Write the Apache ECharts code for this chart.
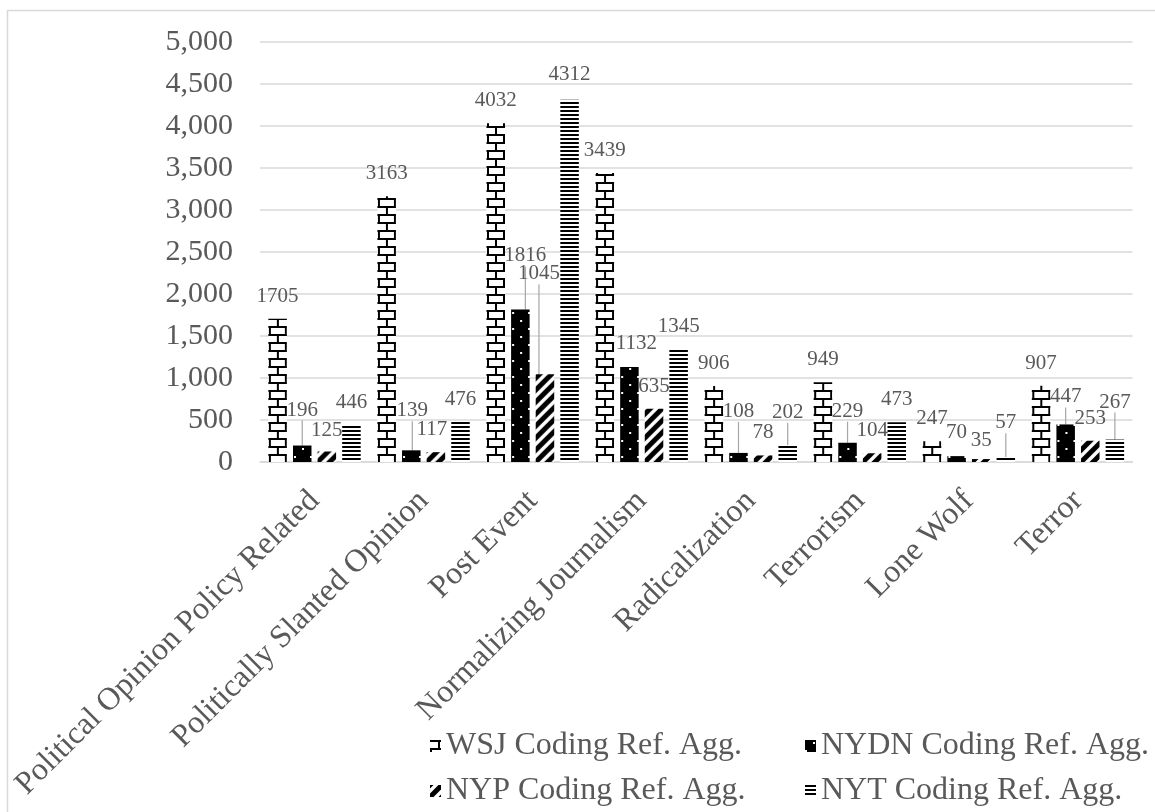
<!DOCTYPE html>
<html><head><meta charset="utf-8">
<script src="https://cdn.jsdelivr.net/npm/echarts@6/dist/echarts.min.js"></script>
<style>html,body{margin:0;padding:0;background:#fff}#c{width:1155px;height:812px}</style>
</head><body><div id="c"></div>
<script>
// ---------- data ----------
const categories = ['Political Opinion Policy Related','Politically Slanted Opinion','Post Event','Normalizing Journalism','Radicalization','Terrorism','Lone Wolf','Terror'];
const seriesNames = ['WSJ Coding Ref. Agg.','NYDN Coding Ref. Agg.','NYP Coding Ref. Agg.','NYT Coding Ref. Agg.'];
const wsj  = [1705, 3163, 4032, 3439, 906, 949, 247, 907];
const nydn = [196, 139, 1816, 1132, 108, 229, 70, 447];
const nyp  = [125, 117, 1045, 635, 78, 104, 35, 253];
const nyt  = [446, 476, 4312, 1345, 202, 473, 57, 267];
const yMin = 0, yMax = 5000, yInterval = 500;

// ---------- label placement (moved labels, pixel shifts) ----------
const labelShift = [
  [null,null,null,null,null,null,null,null],
  [[0,-13],[1,-17],[5,-31],[7,-1],[0,-19],[0,-9],[0,-1],[0,-5]],
  [[0,1],[-4,0],[-6,-78],null,null,null,[0,4],null],
  [null,null,[0,-3],null,[0,-10],null,[0,-12],[0,-15]]
];
const leader = [
  [],
  [0,1,2,4,5,7],
  [2],
  [4,6,7]
];

const FONT = "'Liberation Serif','Times New Roman',serif";
const TXT = '#595959';
const GRID = '#d9d9d9';

// ---------- patterns ----------
function mk(w,h,fn){const c=document.createElement('canvas');c.width=w;c.height=h;const g=c.getContext('2d');fn(g,w,h);return c;}
const patWSJ = mk(16,16,(g)=>{g.fillStyle='#fff';g.fillRect(0,0,16,16);g.fillStyle='#000';
  g.fillRect(0,0,16,2);g.fillRect(0,8,16,2);g.fillRect(8,2,2,6);g.fillRect(0,10,2,6);});
const patNYDN = mk(16,16,(g)=>{g.fillStyle='#000';g.fillRect(0,0,16,16);g.fillStyle='#fff';
  g.fillRect(8,2,2,2);g.fillRect(0,10,2,2);});
const patNYP = mk(12,12,(g)=>{g.fillStyle='#fff';g.fillRect(0,0,12,12);g.strokeStyle='#000';g.lineWidth=5;
  g.beginPath();g.moveTo(-3,15);g.lineTo(15,-3);g.moveTo(-9,9);g.lineTo(9,-9);g.moveTo(3,21);g.lineTo(21,3);g.stroke();});
const patNYT = mk(4,4,(g)=>{g.fillStyle='#fff';g.fillRect(0,0,4,4);g.fillStyle='#000';g.fillRect(0,0,4,2);});
const pats = [patWSJ, patNYDN, patNYP, patNYT];
const patDx = [0.5, 1, 0, 0];

const values = [wsj, nydn, nyp, nyt];

function buildSeries(layouts){
  return values.map((vals, s) => ({
    name: seriesNames[s],
    type: 'bar',
    barWidth: 18.5,
    barGap: '33%',
    itemStyle: {color: {image: pats[s], repeat: 'repeat'}},
    label: {show: true, position: 'top', distance: 12, fontSize: 21, color: TXT, fontFamily: FONT},
    labelLine: {show: false},
    labelLayout: function(p){
      const sh = labelShift[p.seriesIndex][p.dataIndex];
      if (!sh) return {};
      return {dx: sh[0], dy: sh[1]};
    },
    data: vals.map((v, i) => {
      const item = {value: v};
      if (leader[s].indexOf(i) >= 0) item.labelLine = {show: true, lineStyle: {color: '#a6a6a6', width: 1.2}};
      if (layouts) {
        const L = layouts[s][i];
        item.itemStyle = {color: {image: pats[s], repeat: 'repeat', x: L.x + patDx[s], y: L.y}};
      }
      return item;
    })
  }));
}

const chart = echarts.init(document.getElementById('c'), null, {renderer: 'canvas'});
const legendCommon = {orient: 'vertical', top: 725, icon: 'rect', itemWidth: 11, itemHeight: 12, itemGap: 13,
  selectedMode: false, textStyle: {fontSize: 32, color: TXT, fontFamily: FONT}};
const option = {
  animation: false,
  backgroundColor: '#fff',
  textStyle: {fontFamily: FONT},
  graphic: [{type: 'rect', silent: true, z: -10, shape: {x: 7.5, y: 10.5, width: 1400, height: 1000},
    style: {fill: 'none', stroke: GRID, lineWidth: 1.5}}],
  grid: {left: 260, right: 22.5, top: 42, bottom: 350, containLabel: false, outerBoundsMode: 'none'},
  xAxis: {
    type: 'category', data: categories,
    axisLine: {lineStyle: {color: GRID, width: 1.5}},
    axisTick: {show: false},
    axisLabel: {rotate: 45, interval: 0, margin: 34, fontSize: 32, color: TXT, fontFamily: FONT}
  },
  yAxis: {
    type: 'value', min: yMin, max: yMax, interval: yInterval,
    axisLine: {show: false}, axisTick: {show: false},
    splitLine: {lineStyle: {color: GRID, width: 1.5}},
    axisLabel: {margin: 27, fontSize: 30, color: TXT, fontFamily: FONT,
      formatter: v => v.toLocaleString('en-US')}
  },
  legend: [
    Object.assign({data: [seriesNames[0], seriesNames[2]], left: 425}, legendCommon),
    Object.assign({data: [seriesNames[1], seriesNames[3]], left: 800}, legendCommon)
  ],
  series: buildSeries(null)
};
chart.setOption(option);
try {
  const model = chart.getModel();
  const layouts = values.map((vals, s) => {
    const d = model.getSeriesByIndex(s).getData();
    return vals.map((v, i) => d.getItemLayout(i));
  });
  chart.setOption({series: buildSeries(layouts)});
} catch (e) { console.error(e); }
</script>
</body></html>
